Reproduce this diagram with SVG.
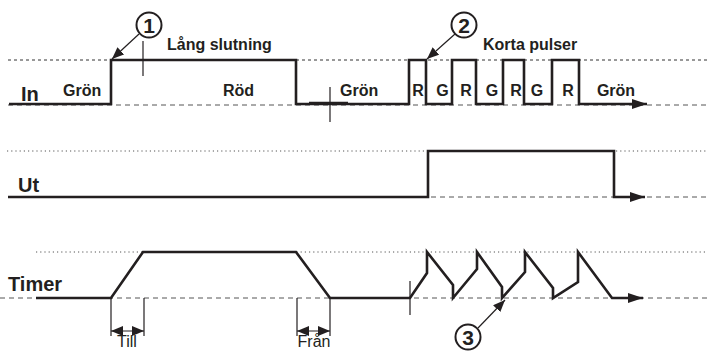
<svg xmlns="http://www.w3.org/2000/svg" width="708" height="352" viewBox="0 0 708 352">
<style>
.bg{fill:#ffffff}
.sig{fill:none;stroke:#231f20;stroke-width:2.6;stroke-linejoin:miter}
.thin{fill:none;stroke:#231f20;stroke-width:1.2}
.dash{fill:none;stroke:#555;stroke-width:1;stroke-dasharray:5 4}
.dot{fill:none;stroke:#555;stroke-width:1;stroke-dasharray:1.2 3}
.sdash{fill:none;stroke:#333;stroke-width:1;stroke-dasharray:3 3}
.lab{font-family:"Liberation Sans",Arial,sans-serif;font-weight:bold;fill:#231f20}
.big{font-size:20px}
.mid{font-size:16px}
.reg{font-family:"Liberation Sans",Arial,sans-serif;font-size:16px;fill:#231f20}
.num{font-family:"Liberation Sans",Arial,sans-serif;font-weight:bold;font-size:21px;fill:#231f20}
.circ{fill:#fff;stroke:#231f20;stroke-width:2}
</style>
<defs>
<marker id="ah" viewBox="0 0 15 10" refX="15" refY="5" markerWidth="15" markerHeight="10" markerUnits="userSpaceOnUse" orient="auto">
<path d="M0,0 L15,5 L0,10 Z" fill="#231f20"/>
</marker>
<marker id="ahs" viewBox="0 0 12 10" refX="12" refY="5" markerWidth="12" markerHeight="10" markerUnits="userSpaceOnUse" orient="auto-start-reverse">
<path d="M0,0 L12,5 L0,10 Z" fill="#231f20"/>
</marker>
</defs>
<rect class="bg" x="0" y="0" width="708" height="352"/>

<g id="guides">
<line class="sdash" x1="8" y1="60" x2="708" y2="60"/>
<line class="dash" x1="8" y1="105" x2="708" y2="105"/>
<line class="dot" x1="7" y1="151" x2="708" y2="151"/>
<line class="dash" x1="8" y1="197" x2="708" y2="197"/>
<line class="dot" x1="36" y1="252" x2="708" y2="252"/>
<line class="dash" x1="0" y1="298" x2="708" y2="298"/>
</g>

<g id="connectors">
<g id="in-signal">
<path class="sig" d="M9,104 H111 V60 H296 V104 H409 V60 H426 V104 H452 V60 H476 V104 H503 V60 H524 V104 H552 V60 H579 V104 H647" marker-end="url(#ah)"/>
<line class="sig" x1="309" y1="103" x2="348" y2="103" stroke-width="3"/>
<line class="thin" x1="143" y1="41" x2="143" y2="76"/>
<line class="thin" x1="330" y1="87" x2="330" y2="122"/>
</g>
<g id="ut-signal">
<path class="sig" d="M8,197 H428 V151 H614 V197 H645" marker-end="url(#ah)"/>
</g>
<g id="timer-signal">
<path class="sig" d="M36,298 H111 L143,252 H296 L330,298 H410 L427,273 V252 L453,285 V298 L477,269 V252 L502,287 V298 L525,272 V252 L553,288 V298 L578,282 V252 L612,298 H643" marker-end="url(#ah)"/>
<line class="thin" x1="410" y1="281" x2="410" y2="315"/>
</g>
<g id="dimensions">
<line class="thin" x1="111" y1="298" x2="111" y2="336"/>
<line class="thin" x1="144" y1="298" x2="144" y2="336"/>
<line class="thin" x1="111" y1="331" x2="144" y2="331" marker-start="url(#ahs)" marker-end="url(#ahs)"/>
<line class="thin" x1="297" y1="298" x2="297" y2="336"/>
<line class="thin" x1="330" y1="298" x2="330" y2="336"/>
<line class="thin" x1="297" y1="331" x2="330" y2="331" marker-start="url(#ahs)" marker-end="url(#ahs)"/>
</g>
<g id="callout-arrows">
<line class="thin" stroke-width="2" x1="139" y1="34" x2="112" y2="59" marker-end="url(#ahs)"/>
<line class="thin" stroke-width="2" x1="455" y1="34" x2="427" y2="59" marker-end="url(#ahs)"/>
<line class="thin" stroke-width="2" x1="478" y1="328" x2="505" y2="300" marker-end="url(#ahs)"/>
</g>
</g>

<g id="callout-1">
<circle class="circ" cx="149" cy="25" r="12.5"/>
<text class="num" x="149" y="32.5" text-anchor="middle">1</text>
</g>
<g id="callout-2">
<circle class="circ" cx="464" cy="25" r="12.5"/>
<text class="num" x="464" y="32.5" text-anchor="middle">2</text>
</g>
<g id="callout-3">
<circle class="circ" cx="468" cy="337" r="12.5"/>
<text class="num" x="468" y="344.5" text-anchor="middle">3</text>
</g>

<g id="labels">
<text class="lab big" x="21" y="101">In</text>
<text class="lab big" x="18" y="192">Ut</text>
<text class="lab big" x="8" y="291">Timer</text>
<text class="lab mid" x="167" y="50">Lång slutning</text>
<text class="lab mid" x="483" y="50">Korta pulser</text>
<text class="lab mid" x="63" y="96">Grön</text>
<text class="lab mid" x="223" y="96">Röd</text>
<text class="lab mid" x="340" y="96">Grön</text>
<g text-anchor="middle">
<text class="lab mid" x="418" y="96">R</text>
<text class="lab mid" x="442.5" y="96">G</text>
<text class="lab mid" x="466" y="96">R</text>
<text class="lab mid" x="492" y="96">G</text>
<text class="lab mid" x="516" y="96">R</text>
<text class="lab mid" x="537" y="96">G</text>
<text class="lab mid" x="568" y="96">R</text>
<text class="lab mid" x="616" y="96">Grön</text>
<text class="reg" x="127" y="347">Till</text>
<text class="reg" x="314" y="347">Från</text>
</g>
</g>
</svg>
